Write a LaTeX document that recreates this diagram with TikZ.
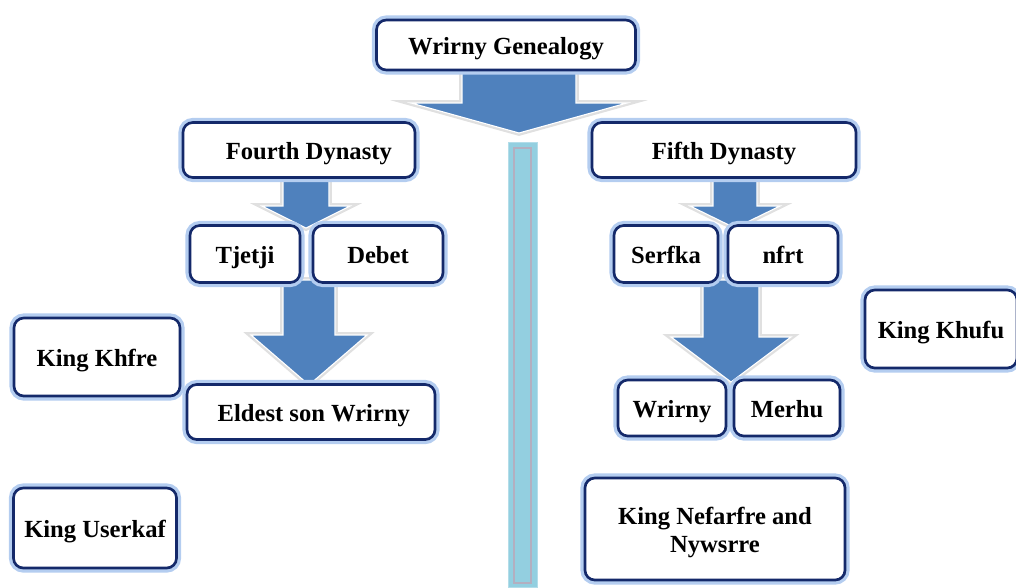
\documentclass[tikz,border=0pt]{standalone}
\usepackage{fontspec}
\setmainfont{Liberation Serif}
\definecolor{navy}{HTML}{14296A}
\definecolor{glow}{HTML}{B4CDF0}
\definecolor{arrowblue}{HTML}{4F81BD}
\definecolor{barblue}{HTML}{93CFE0}
\definecolor{barline}{HTML}{B3AFC0}
\tikzset{
  box/.style={draw=navy, line width=1.9pt, fill=white, rounded corners=7pt,
    preaction={draw=glow, line width=6.5pt},
    font=\fontsize{17.5}{20}\selectfont\bfseries, align=center, inner sep=2pt,
    text height=15pt, text depth=1pt},
  bw/.style={minimum width=#1*0.025cm},
  bh/.style={minimum height=#1*0.025cm},
  flow/.style={fill=arrowblue, draw=white, line width=0.8pt, line join=miter,
    preaction={draw=black!12, line width=4pt, line join=miter}}
}
% block arrow: x, top, base, tip, shaft half width, head half width
\newcommand{\blockarrow}[6]{%
  \draw[flow] ({#1-#5},#2) -- ({#1-#5},#3) -- ({#1-#6},#3) -- (#1,#4)
    -- ({#1+#6},#3) -- ({#1+#5},#3) -- ({#1+#5},#2) -- cycle;}

\begin{document}
\begin{tikzpicture}[x=0.025cm, y=-0.025cm]
\useasboundingbox (0,0) rectangle (1016,587);
%\draw[step=50,gray!30,very thin] (0,0) grid (1016,587);

% arrows first, boxes sit on top
\blockarrow{519}{66}{103}{133}{57}{108}
\blockarrow{306}{176}{206}{228}{23}{44}
\blockarrow{309}{280}{335}{385}{26}{58}
\blockarrow{735}{176}{206}{228}{22}{45}
\blockarrow{731}{280}{337}{382}{28}{60}

% middle bar
\draw[draw=barblue!70, fill=barblue] (508,142) rectangle (537,587);
\draw[barline, line width=1pt] (514,148) rectangle (531,583);

\node[box, bw=259, bh=50] (gen) at (506,45) {Wrirny Genealogy};
\node[box, bw=232, bh=55] (fourth) at (299,150) {\hspace{14pt}Fourth Dynasty};
\node[box, bw=264, bh=55] (fifth) at (724,150) {Fifth Dynasty};

\node[box, bw=110, bh=57] (tjetji) at (245,254) {Tjetji};
\node[box, bw=130, bh=57] (debet) at (378,254) {Debet};
\node[box, bw=248, bh=55] (eldest) at (311,412) {\hspace{4pt}Eldest son Wrirny};

\node[box, bw=104, bh=57] (serfka) at (666,254) {Serfka};
\node[box, bw=110, bh=57] (nfrt) at (783,254) {nfrt};
\node[box, bw=108, bh=56] (wrirny) at (672,408) {Wrirny};
\node[box, bw=106, bh=56] (merhu) at (787,408) {Merhu};

\node[box, bw=166, bh=78] (khfre) at (97,357) {King Khfre};
\node[box, bw=163, bh=80] (userkaf) at (95,528) {King Userkaf};
\node[box, bw=152, bh=78] (khufu) at (941,329) {King Khufu};
\node[box, bw=260, bh=102, text height=, text depth=] (nefarfre) at (715,529)
  {\rule{0pt}{17pt}King Nefarfre and\\Nywsrre};
\end{tikzpicture}
\end{document}
